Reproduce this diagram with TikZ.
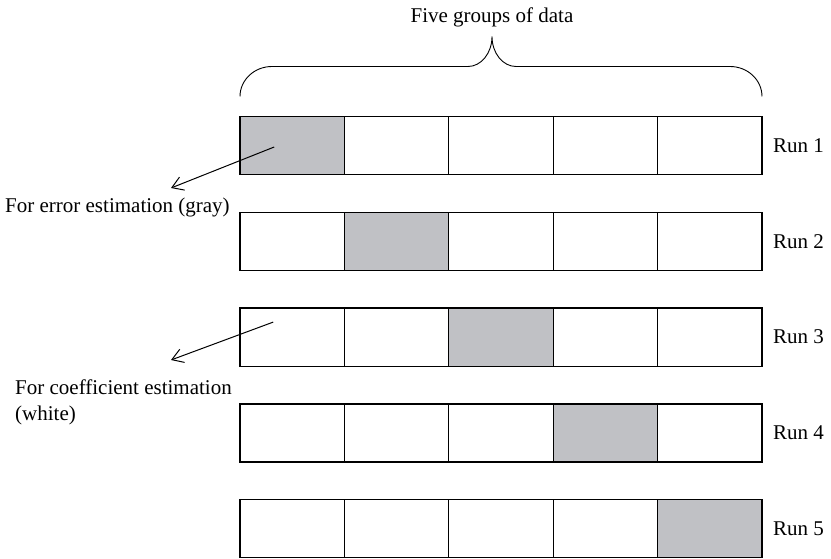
\documentclass[tikz,border=0pt]{standalone}
\usepackage{fontspec}
\setmainfont{Liberation Serif}
\usepackage{tikz}
\usetikzlibrary{arrows.meta,positioning}

\definecolor{cellgray}{RGB}{192,193,197}

\begin{document}
\begin{tikzpicture}[x=1pt,y=1pt,
  font=\fontsize{21}{26}\selectfont,
  cell/.style={draw, rectangle, line width=1.2pt,
    minimum width=104.4pt, minimum height=58pt,
    inner sep=0pt, outer sep=0pt},
  holdout/.style={cell, fill=cellgray},
  pointer/.style={-{Straight Barb[length=11pt,width=14pt]}, line width=1pt}]

\useasboundingbox (0,0) rectangle (831,558);

% Groups of data, one row per run
\foreach \r in {1,...,5} {
  \foreach \c in {1,...,5} {
    \ifnum\r=\c
      \node[holdout] (c-\r-\c) at ({292.2+104.4*(\c-1)},{412.5-95.8*(\r-1)}) {};
    \else
      \node[cell] (c-\r-\c) at ({292.2+104.4*(\c-1)},{412.5-95.8*(\r-1)}) {};
    \fi
  }
  \node[right=11pt of c-\r-5, inner sep=0pt] (run\r) {Run \r};
}

% Brace over the five groups
\draw[line width=0.9pt]
  ([yshift=20pt]c-1-1.north west)
  arc[start angle=180, end angle=90, x radius=32, y radius=30]
  -- ++(196,0)
  arc[start angle=270, end angle=360, x radius=24, y radius=30]
  coordinate (bracetip)
  arc[start angle=180, end angle=270, x radius=24, y radius=30]
  -- ++(214,0)
  arc[start angle=90, end angle=0, x radius=32, y radius=30];

\node[above=6pt of bracetip] (title) {Five groups of data};

% Labels
\node[anchor=base west, inner sep=0pt] (errlabel) at (5,345)
  {For error estimation (gray)};
\node[anchor=base west, inner sep=0pt, align=left] (coeflabel) at (15,138)
  {For coefficient estimation\\(white)};

\coordinate (errtip) at (171,370);
\coordinate (coeftip) at (171,198);

% Arrows
\draw[pointer] ([shift={(-18,-1.5)}]c-1-1.center) -- (errtip);
\draw[pointer] ([shift={(-19,15)}]c-3-1.center) -- (coeftip);

\end{tikzpicture}
\end{document}
